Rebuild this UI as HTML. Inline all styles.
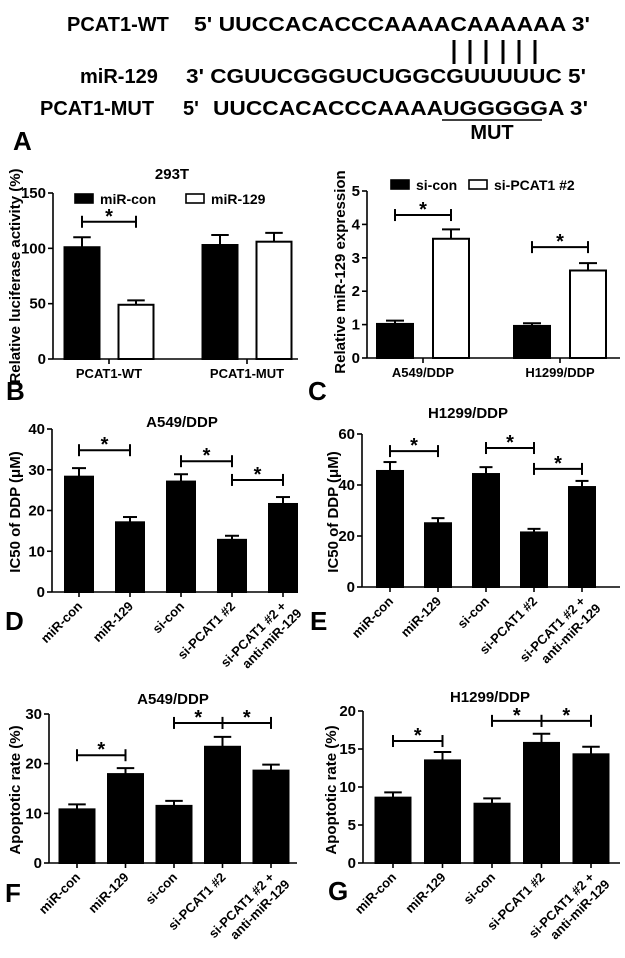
<!DOCTYPE html>
<html><head><meta charset="utf-8">
<style>
html,body{margin:0;padding:0;background:#fff;}
svg{display:block;font-family:"Liberation Sans",Arial,sans-serif;font-weight:bold;}
</style></head>
<body>
<svg id="fig" width="625" height="958" viewBox="0 0 625 958" xmlns="http://www.w3.org/2000/svg">
  <g font-size="20">
    <text x="67" y="31">PCAT1-WT</text>
    <text x="194" y="31" textLength="396" lengthAdjust="spacingAndGlyphs">5' UUCCACACCCAAAACAAAAAA  3'</text>
    <g stroke="#000" stroke-width="3">
      <line x1="454" y1="40" x2="454" y2="64"/><line x1="470" y1="40" x2="470" y2="64"/>
      <line x1="486" y1="40" x2="486" y2="64"/><line x1="503" y1="40" x2="503" y2="64"/>
      <line x1="519" y1="40" x2="519" y2="64"/><line x1="535" y1="40" x2="535" y2="64"/>
    </g>
    <text x="80" y="83">miR-129</text>
    <text x="186" y="83" textLength="400" lengthAdjust="spacingAndGlyphs">3' CGUUCGGGUCUGGCGUUUUUC 5'</text>
    <text x="40" y="115">PCAT1-MUT</text>
    <text x="183" y="115">5'</text>
    <text x="213" y="115" textLength="375" lengthAdjust="spacingAndGlyphs">UUCCACACCCAAAAUGGGGGA 3'</text>
    <line x1="442" y1="120" x2="542" y2="120" stroke="#000" stroke-width="1.5"/>
    <text x="492" y="139" text-anchor="middle">MUT</text>
  </g>
  <g font-size="26" font-weight="bold">
  <text x="13" y="150">A</text>
  <text x="6" y="400">B</text>
  <text x="308" y="400">C</text>
  <text x="5" y="630">D</text>
  <text x="310" y="630">E</text>
  <text x="5" y="902">F</text>
  <text x="328" y="900">G</text>
  </g>
</svg>
<script>
// ---- Panel B data ----
const bGroups = ["PCAT1-WT", "PCAT1-MUT"];
const bSeries = ["miR-con", "miR-129"];
const bMirCon = [101, 103];
const bMirConErr = [9, 9];
const bMir129 = [49, 106];
const bMir129Err = [4, 8];
const bTicks = [0, 50, 100, 150];
// ---- Panel C data ----
const cGroups = ["A549/DDP", "H1299/DDP"];
const cSeries = ["si-con", "si-PCAT1 #2"];
const cSiCon = [1.02, 0.96];
const cSiConErr = [0.1, 0.08];
const cSiPcat = [3.57, 2.62];
const cSiPcatErr = [0.28, 0.22];
const cTicks = [0, 1, 2, 3, 4, 5];
// ---- Panels D-G shared categories ----
const groupCats = ["miR-con", "miR-129", "si-con", "si-PCAT1 #2", "si-PCAT1 #2 +|anti-miR-129"];
const dValues = [28.3, 17.1, 27.1, 12.8, 21.6];
const dErr = [2.1, 1.3, 1.8, 1.0, 1.7];
const dTicks = [0, 10, 20, 30, 40];
const eValues = [45.5, 25.0, 44.3, 21.4, 39.2];
const eErr = [3.5, 2.0, 2.7, 1.4, 2.4];
const eTicks = [0, 20, 40, 60];
const fValues = [10.8, 17.9, 11.5, 23.4, 18.6];
const fErr = [1.0, 1.2, 1.0, 2.0, 1.2];
const fTicks = [0, 10, 20, 30];
const gValues = [8.6, 13.5, 7.8, 15.8, 14.3];
const gErr = [0.7, 1.1, 0.7, 1.2, 1.0];
const gTicks = [0, 5, 10, 15, 20];
// significance brackets: [from index, to index, level]
const bSig = [[0, 0, 124]];
const cSig = [[0, 0, 4.28], [1, 1, 3.32]];
const dSig = [[0, 1, 34.8], [2, 3, 32.1], [3, 4, 27.5]];
const eSig = [[0, 1, 53.3], [2, 3, 54.5], [3, 4, 46.3]];
const fSig = [[0, 1, 21.7], [2, 3, 28.2], [3, 4, 28.2]];
const gSig = [[0, 1, 16.05], [2, 3, 18.7], [3, 4, 18.7]];

const NS = "http://www.w3.org/2000/svg";
const fig = document.getElementById("fig");
function mk(tag, attrs, parent, txt) {
  const e = document.createElementNS(NS, tag);
  for (const k in attrs) e.setAttribute(k, attrs[k]);
  if (txt !== undefined) e.textContent = txt;
  parent.appendChild(e);
  return e;
}

function axes(g, cfg) {
  const ys = v => cfg.y0 - (v - cfg.ticks[0]) / (cfg.ticks[cfg.ticks.length - 1] - cfg.ticks[0]) * (cfg.y0 - cfg.yTop);
  const yl = mk("line", {x1: cfg.ax, y1: cfg.yTop, x2: cfg.ax, y2: cfg.y0, stroke: "#000", "stroke-width": 1.6}, g);
  
  
  const xl = mk("line", {x1: cfg.ax, y1: cfg.y0, x2: cfg.axEnd, y2: cfg.y0, stroke: "#000", "stroke-width": 1.6}, g);
  
  
  cfg.ticks.forEach(t => {
    const y = ys(t);
    mk("line", {x1: cfg.ax - 5, y1: y, x2: cfg.ax, y2: y, stroke: "#000", "stroke-width": 1.6}, g);
    const tl = mk("text", {x: cfg.ax - 7, y: y + 5, "text-anchor": "end", "font-size": 15}, g, String(t));
    
    
  });
  const lab = mk("text", {x: 0, y: 0, "text-anchor": "middle", "font-size": 15,
    transform: `translate(${cfg.ylx},${cfg.yly}) rotate(-90)`}, g, cfg.ylabel);
  
  
  if (cfg.title) {
    const ti = mk("text", {x: cfg.tx, y: cfg.ty, "text-anchor": "middle", "font-size": 15}, g, cfg.title);
    
    
  }
  return ys;
}

function bar(g, x, w, v, err, ys, fill, name) {
  const yt = ys(v), y0 = ys(0), ye = ys(v + err);
  const eb = mk("g", {}, g);
  
  
  mk("line", {x1: x, y1: yt, x2: x, y2: ye, stroke: "#000", "stroke-width": 2}, eb);
  mk("line", {x1: x - w / 4, y1: ye, x2: x + w / 4, y2: ye, stroke: "#000", "stroke-width": 2}, eb);
  const r = mk("rect", {x: x - w / 2, y: yt, width: w, height: y0 - yt, fill: fill, stroke: "#000", "stroke-width": 2}, g);
  
  
}

function bracket(g, x1, x2, y) {
  const b = mk("g", {stroke: "#000", "stroke-width": 2}, g);
  
  
  mk("line", {x1: x1, y1: y, x2: x2, y2: y}, b);
  mk("line", {x1: x1, y1: y - 6, x2: x1, y2: y + 6}, b);
  mk("line", {x1: x2, y1: y - 6, x2: x2, y2: y + 6}, b);
  const s = mk("text", {x: (x1 + x2) / 2, y: y + 1, "text-anchor": "middle", "font-size": 20, stroke: "none"}, g, "*");
  
  
}

function legend(g, x, y, fill, label, name) {
  const lg = mk("g", {}, g);
  
  
  mk("rect", {x: x, y: y, width: 18, height: 9, fill: fill, stroke: "#000", "stroke-width": 1.6}, lg);
  mk("text", {x: x + 25, y: y + 10, "font-size": 14}, lg, label);
}

function grouped(cfg, g1, e1, g2, e2, groups, series, sig, name) {
  const g = mk("g", {}, fig);
  
  
  const ys = axes(g, cfg);
  groups.forEach((lab, i) => {
    const cx = cfg.gx0 + i * cfg.gstep;
    mk("line", {x1: cx, y1: cfg.y0, x2: cx, y2: cfg.y0 + 5, stroke: "#000", "stroke-width": 1.6}, g);
    const t = mk("text", {x: cx, y: cfg.y0 + 19, "text-anchor": "middle", "font-size": 13}, g, lab);
    
    
    bar(g, cx - cfg.off, cfg.bw, g1[i], e1[i], ys, "#000", 'bar-' + series[0].replace(/[^a-z0-9]+/gi, '-').toLowerCase());
    bar(g, cx + cfg.off, cfg.bw, g2[i], e2[i], ys, "#fff", 'bar-' + series[1].replace(/[^a-z0-9]+/gi, '-').toLowerCase());
  });
  sig.forEach(s => {
    const cx = cfg.gx0 + s[0] * cfg.gstep;
    bracket(g, cx - cfg.off, cx + cfg.off, ys(s[2]));
  });
  legend(g, cfg.lx1, cfg.ly, "#000", series[0], 'legend-entry-' + series[0].replace(/[^a-z0-9]+/gi, '-').toLowerCase());
  legend(g, cfg.lx2, cfg.ly, "#fff", series[1], 'legend-entry-' + series[1].replace(/[^a-z0-9]+/gi, '-').toLowerCase());
}

grouped({ax: 53, axEnd: 298, y0: 359, yTop: 193, ticks: bTicks, ylabel: "Relative luciferase activity (%)",
  ylx: 20, yly: 276, title: "293T", tx: 172, ty: 179, gx0: 109, gstep: 138, off: 27, bw: 35,
  lx1: 75, lx2: 186, ly: 194}, bMirCon, bMirConErr, bMir129, bMir129Err, bGroups, bSeries, bSig, "panel-b-luciferase-chart");

grouped({ax: 367, axEnd: 620, y0: 358, yTop: 191, ticks: cTicks, ylabel: "Relative miR-129 expression",
  ylx: 345, yly: 272, title: null, gx0: 423, gstep: 137, off: 28, bw: 36,
  lx1: 391, lx2: 469, ly: 180}, cSiCon, cSiConErr, cSiPcat, cSiPcatErr, cGroups, cSeries, cSig, "panel-c-expression-chart");

function single(cfg, vals, errs, sig, name) {
  const g = mk("g", {}, fig);
  
  
  const ys = axes(g, cfg);
  const xs = i => cfg.x0 + i * cfg.step;
  groupCats.forEach((lab, i) => {
    const cx = xs(i);
    mk("line", {x1: cx, y1: cfg.y0, x2: cx, y2: cfg.y0 + 5, stroke: "#000", "stroke-width": 1.6}, g);
    const parts = lab.split("|");
    const t = mk("text", {x: 0, y: 0, "text-anchor": "end", "font-size": 13,
      transform: `translate(${cx + 4},${cfg.y0 + 15}) rotate(-45)`}, g);
    
    
    parts.forEach((p, k) => {
      mk("tspan", {x: k === 0 ? 0 : 6, dy: k === 0 ? 0 : 16}, t, p);
    });
    bar(g, cx, cfg.bw, vals[i], errs[i], ys, "#000", 'bar-' + lab.split("|")[0].replace(/[^a-z0-9]+/gi, '-').toLowerCase().replace(/-$/, ''));
  });
  sig.forEach(s => bracket(g, xs(s[0]), xs(s[1]), ys(s[2])));
}

single({ax: 52, axEnd: 298, y0: 592, yTop: 429, ticks: dTicks, ylabel: "IC50 of DDP (\u03bcM)", ylx: 20, yly: 512,
  title: "A549/DDP", tx: 182, ty: 427, x0: 79, step: 51, bw: 28}, dValues, dErr, dSig, "panel-d-a549-ic50-chart");
single({ax: 362, axEnd: 620, y0: 587, yTop: 434, ticks: eTicks, ylabel: "IC50 of DDP (\u03bcM)", ylx: 338, yly: 512,
  title: "H1299/DDP", tx: 468, ty: 418, x0: 390, step: 48, bw: 26}, eValues, eErr, eSig, "panel-e-h1299-ic50-chart");
single({ax: 49, axEnd: 297, y0: 863, yTop: 714, ticks: fTicks, ylabel: "Apoptotic rate (%)", ylx: 20, yly: 790,
  title: "A549/DDP", tx: 173, ty: 704, x0: 77, step: 48.5, bw: 35}, fValues, fErr, fSig, "panel-f-a549-apoptosis-chart");
single({ax: 363, axEnd: 620, y0: 863, yTop: 711, ticks: gTicks, ylabel: "Apoptotic rate (%)", ylx: 336, yly: 790,
  title: "H1299/DDP", tx: 490, ty: 702, x0: 393, step: 49.5, bw: 35}, gValues, gErr, gSig, "panel-g-h1299-apoptosis-chart");
</script>
</body></html>
